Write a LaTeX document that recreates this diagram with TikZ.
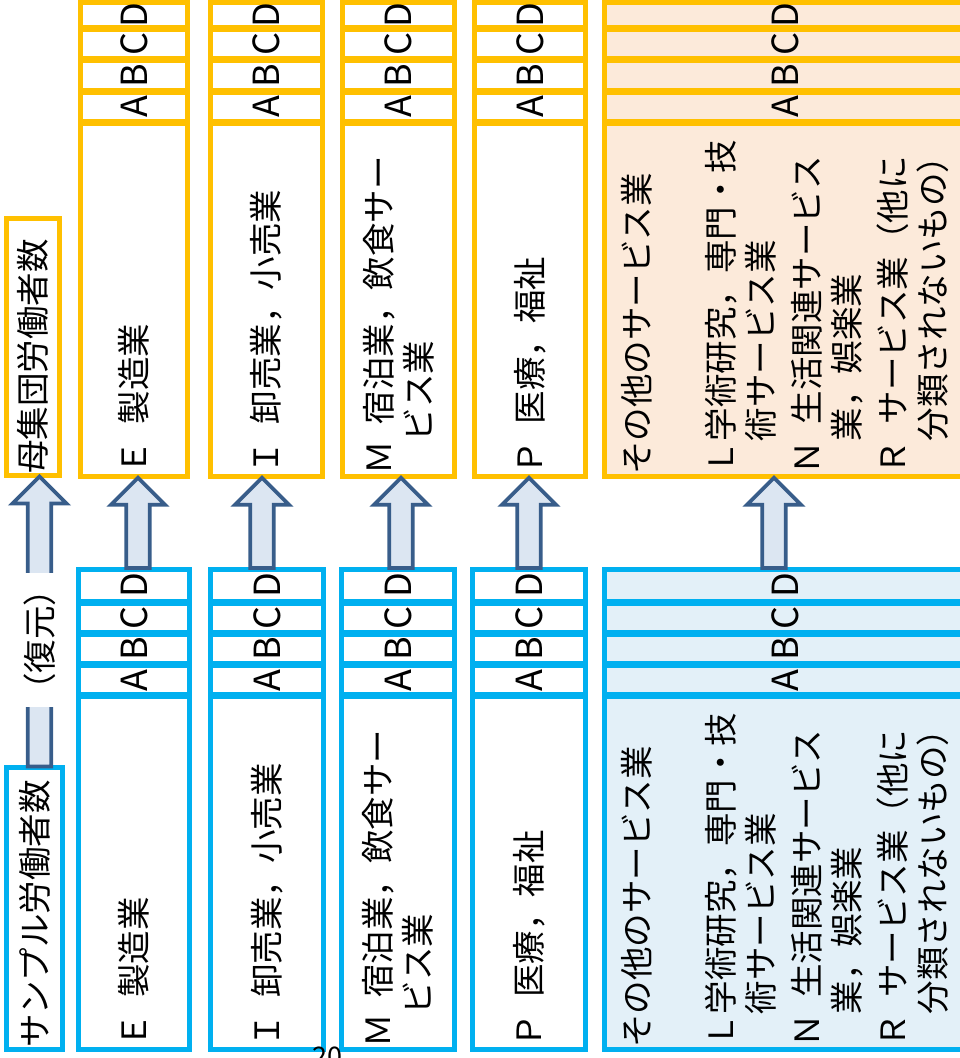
\documentclass[tikz,border=0pt]{standalone}
\usepackage{fontspec}
\setmainfont{Noto Sans CJK JP}
\usepackage{graphicx}
\usepackage{tikz}
\usetikzlibrary{positioning, calc}
\usepackage{xcolor}
\definecolor{popYellow}{RGB}{255, 192, 0}
\definecolor{sampleBlue}{RGB}{0, 176, 240}
\definecolor{paleOrange}{RGB}{252, 234, 218}
\definecolor{paleBlue}{RGB}{227, 240, 248}
\definecolor{arrowEdge}{RGB}{56, 93, 138}
\definecolor{arrowFill}{RGB}{220, 230, 242}

% text turned to read upwards, left edge at the bottom of the cell
\newcommand{\vlabel}[2]{\rotatebox{90}{\parbox{#1}{\raggedright #2}}}
% letter of a small cell, turned the same way
\newcommand{\gradeletter}[1]{\rotatebox{90}{\fontsize{36}{40}\selectfont #1}}
% block arrow from #2 (tail) up to #3 (tip), shifted sideways by #1
\newcommand{\liftarrow}[3][0pt]{%
    \draw [lift] let \p1=(#2), \p2=(#3) in
        (#1+\x1-11.75pt, \y1) -- (#1+\x1-11.75pt, \y2-27pt)
        -- (#1+\x1-27pt, \y2-27pt) -- (#1+\x1, \y2)
        -- (#1+\x1+27pt, \y2-27pt) -- (#1+\x1+11.75pt, \y2-27pt)
        -- (#1+\x1+11.75pt, \y1) -- cycle;}

\begin{document}
\begin{tikzpicture}
    [
        x=1pt, y=-1pt,
        font=\fontsize{33.5}{40}\selectfont,
        ycell/.style={
            draw=popYellow, line width=5pt, fill=white, inner sep=0pt,
            outer sep=1pt, minimum height=29.25pt
        },
        bcell/.style={
            draw=sampleBlue, line width=5pt, fill=white, inner sep=0pt,
            outer sep=1pt, minimum height=29.25pt
        },
        lift/.style={draw=arrowEdge, fill=arrowFill, line width=3.75pt}
    ]

\useasboundingbox (0,0) rectangle (960,1058);

% Population (top row)
\node (pop) [ycell, minimum width=53pt, minimum height=257pt] at (33,347)
    {\vlabel{253pt}{母集団労働者数}};

\node (yeD) [ycell, minimum width=107pt, minimum height=25pt, anchor=north] at (134,1.5) {\gradeletter{D}};
\node (yeC) [ycell, minimum width=107pt, below=0pt of yeD] {\gradeletter{C}};
\node (yeB) [ycell, minimum width=107pt, below=0pt of yeC] {\gradeletter{B}};
\node (yeA) [ycell, minimum width=107pt, below=0pt of yeB] {\gradeletter{A}};
\node (ye) [ycell, minimum width=107pt, minimum height=353.5pt, below=0pt of yeA]
    {\vlabel{349pt}{Ｅ\enskip 製造業}};

\node (yiD) [ycell, minimum width=112pt, minimum height=25pt, anchor=north] at (266.5,1.5) {\gradeletter{D}};
\node (yiC) [ycell, minimum width=112pt, below=0pt of yiD] {\gradeletter{C}};
\node (yiB) [ycell, minimum width=112pt, below=0pt of yiC] {\gradeletter{B}};
\node (yiA) [ycell, minimum width=112pt, below=0pt of yiB] {\gradeletter{A}};
\node (yi) [ycell, minimum width=112pt, minimum height=353.5pt, below=0pt of yiA]
    {\vlabel{349pt}{Ｉ\enskip 卸売業，小売業}};

\node (ymD) [ycell, minimum width=112pt, minimum height=25pt, anchor=north] at (398.5,1.5) {\gradeletter{D}};
\node (ymC) [ycell, minimum width=112pt, below=0pt of ymD] {\gradeletter{C}};
\node (ymB) [ycell, minimum width=112pt, below=0pt of ymC] {\gradeletter{B}};
\node (ymA) [ycell, minimum width=112pt, below=0pt of ymB] {\gradeletter{A}};
\node (ym) [ycell, minimum width=112pt, minimum height=353.5pt, below=0pt of ymA]
    {\vlabel{349pt}{Ｍ\enskip 宿泊業，飲食サー\\ \hspace*{1em}ビス業}};

\node (ypD) [ycell, minimum width=111pt, minimum height=25pt, anchor=north] at (530,1.5) {\gradeletter{D}};
\node (ypC) [ycell, minimum width=111pt, below=0pt of ypD] {\gradeletter{C}};
\node (ypB) [ycell, minimum width=111pt, below=0pt of ypC] {\gradeletter{B}};
\node (ypA) [ycell, minimum width=111pt, below=0pt of ypB] {\gradeletter{A}};
\node (yp) [ycell, minimum width=111pt, minimum height=353.5pt, below=0pt of ypA]
    {\vlabel{349pt}{Ｐ\enskip 医療，福祉}};

\node (yoD) [ycell, fill=paleOrange, minimum width=361pt, minimum height=25pt, anchor=north] at (785,1.5) {\gradeletter{D}};
\node (yoC) [ycell, fill=paleOrange, minimum width=361pt, below=0pt of yoD] {\gradeletter{C}};
\node (yoB) [ycell, fill=paleOrange, minimum width=361pt, below=0pt of yoC] {\gradeletter{B}};
\node (yoA) [ycell, fill=paleOrange, minimum width=361pt, below=0pt of yoB] {\gradeletter{A}};
\node (yo) [ycell, fill=paleOrange, minimum width=361pt, minimum height=353.5pt, below=0pt of yoA]
    {\vlabel{349pt}{その他のサービス業\\[44pt]
    Ｌ学術研究，専門・技\\ \hspace*{1em}術サービス業\\[6pt]
    Ｎ\enskip 生活関連サービス\\ \hspace*{1em}業，娯楽業\\[6pt]
    Ｒ\enskip サービス業（他に\\ \hspace*{1em}分類されないもの）}};

% Sample (bottom row)
\node (sample) [bcell, minimum width=56pt, minimum height=282pt] at (34.5,908.5)
    {\vlabel{278pt}{サンプル労働者数}};

\node (beD) [bcell, minimum width=111pt, minimum height=32pt, anchor=north] at (134,568) {\gradeletter{D}};
\node (beC) [bcell, minimum width=111pt, below=0pt of beD] {\gradeletter{C}};
\node (beB) [bcell, minimum width=111pt, below=0pt of beC] {\gradeletter{B}};
\node (beA) [bcell, minimum width=111pt, below=0pt of beB] {\gradeletter{A}};
\node (be) [bcell, minimum width=111pt, minimum height=353pt, below=0pt of beA]
    {\vlabel{349pt}{Ｅ\enskip 製造業}};

\node (biD) [bcell, minimum width=113pt, minimum height=32pt, anchor=north] at (267,568) {\gradeletter{D}};
\node (biC) [bcell, minimum width=113pt, below=0pt of biD] {\gradeletter{C}};
\node (biB) [bcell, minimum width=113pt, below=0pt of biC] {\gradeletter{B}};
\node (biA) [bcell, minimum width=113pt, below=0pt of biB] {\gradeletter{A}};
\node (bi) [bcell, minimum width=113pt, minimum height=353pt, below=0pt of biA]
    {\vlabel{349pt}{Ｉ\enskip 卸売業，小売業}};

\node (bmD) [bcell, minimum width=113pt, minimum height=32pt, anchor=north] at (398,568) {\gradeletter{D}};
\node (bmC) [bcell, minimum width=113pt, below=0pt of bmD] {\gradeletter{C}};
\node (bmB) [bcell, minimum width=113pt, below=0pt of bmC] {\gradeletter{B}};
\node (bmA) [bcell, minimum width=113pt, below=0pt of bmB] {\gradeletter{A}};
\node (bm) [bcell, minimum width=113pt, minimum height=353pt, below=0pt of bmA]
    {\vlabel{349pt}{Ｍ\enskip 宿泊業，飲食サー\\ \hspace*{1em}ビス業}};

\node (bpD) [bcell, minimum width=113pt, minimum height=32pt, anchor=north] at (529,568) {\gradeletter{D}};
\node (bpC) [bcell, minimum width=113pt, below=0pt of bpD] {\gradeletter{C}};
\node (bpB) [bcell, minimum width=113pt, below=0pt of bpC] {\gradeletter{B}};
\node (bpA) [bcell, minimum width=113pt, below=0pt of bpB] {\gradeletter{A}};
\node (bp) [bcell, minimum width=113pt, minimum height=353pt, below=0pt of bpA]
    {\vlabel{349pt}{Ｐ\enskip 医療，福祉}};

\node (boD) [bcell, fill=paleBlue, minimum width=361pt, minimum height=32pt, anchor=north] at (785,568) {\gradeletter{D}};
\node (boC) [bcell, fill=paleBlue, minimum width=361pt, below=0pt of boD] {\gradeletter{C}};
\node (boB) [bcell, fill=paleBlue, minimum width=361pt, below=0pt of boC] {\gradeletter{B}};
\node (boA) [bcell, fill=paleBlue, minimum width=361pt, below=0pt of boB] {\gradeletter{A}};
\node (bo) [bcell, fill=paleBlue, minimum width=361pt, minimum height=353pt, below=0pt of boA]
    {\vlabel{349pt}{その他のサービス業\\[44pt]
    Ｌ学術研究，専門・技\\ \hspace*{1em}術サービス業\\[6pt]
    Ｎ\enskip 生活関連サービス\\ \hspace*{1em}業，娯楽業\\[6pt]
    Ｒ\enskip サービス業（他に\\ \hspace*{1em}分類されないもの）}};

% Arrows
\liftarrow[5pt]{sample.north}{pop.south}
\liftarrow[4pt]{beD.north}{ye.south}
\liftarrow[-5pt]{biD.north}{yi.south}
\liftarrow[3pt]{bmD.north}{ym.south}
\liftarrow{bpD.north}{yp.south}
\liftarrow[-11pt]{boD.north}{yo.south}

\node (restore) [fill=white, inner sep=0pt, rotate=90] at (39.5,639.5) {（復元）};

\node (pageno) [font=\fontsize{27}{30}\selectfont, anchor=base] at (327,1066.5) {20};

\end{tikzpicture}
\end{document}
